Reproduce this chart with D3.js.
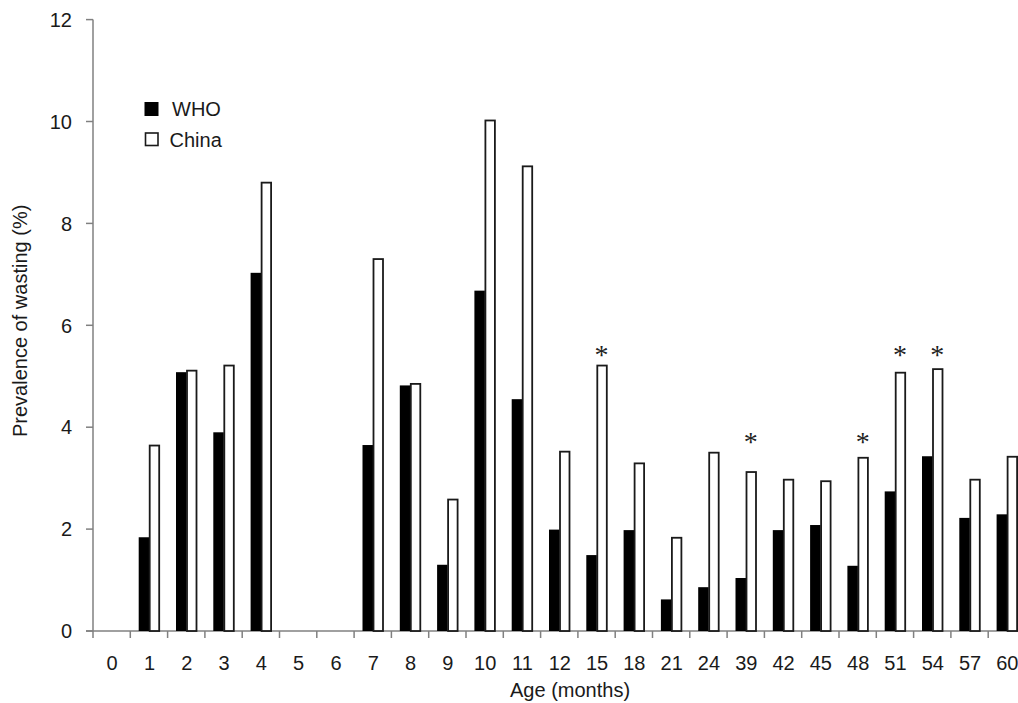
<!DOCTYPE html>
<html>
<head>
<meta charset="utf-8">
<script src="https://cdn.jsdelivr.net/npm/d3@7"></script>
<style>
  html, body { margin: 0; padding: 0; background: #fff; }
  svg { display: block; }
  text { font-family: "Liberation Sans", Arial, sans-serif; fill: #1a1a1a; }
</style>
</head>
<body>
<svg id="chart" width="1018" height="703"></svg>
<script>
const categories = ["0","1","2","3","4","5","6","7","8","9","10","11","12","15","18","21","24","39","42","45","48","51","54","57","60"];
const whoValues = [null, 1.84, 5.08, 3.90, 7.03, null, null, 3.65, 4.82, 1.30, 6.68, 4.55, 1.99, 1.49, 1.98, 0.62, 0.86, 1.04, 1.98, 2.08, 1.28, 2.74, 3.43, 2.22, 2.29];
const chinaValues = [null, 3.64, 5.11, 5.21, 8.80, null, null, 7.30, 4.85, 2.58, 10.02, 9.12, 3.52, 5.21, 3.29, 1.83, 3.50, 3.12, 2.97, 2.94, 3.40, 5.07, 5.14, 2.97, 3.42];
const yTicks = [0, 2, 4, 6, 8, 10, 12];
const sigCategories = ["15", "39", "48", "51", "54"];
const sigLevels = [5.54, 3.82, 3.82, 5.54, 5.54];
const seriesNames = ["WHO", "China"];

const svg = d3.select("#chart");
const axisColor = "#808080";

const x = d3.scaleBand().domain(categories).range([93, 93 + 37.3 * categories.length]).padding(0);
const x1 = d3.scaleBand().domain(seriesNames).range([8.4, 29.4]).padding(0);
const y = d3.scaleLinear().domain([0, 12]).range([631, 19.6]);

// Y axis
svg.append("line").attr("x1", 93).attr("x2", 93).attr("y1", y(12)).attr("y2", y(0))
  .attr("stroke", axisColor).attr("stroke-width", 1.5);
svg.selectAll(".ytick").data(yTicks).enter().append("line")
  .attr("x1", 86).attr("x2", 93).attr("y1", d => y(d)).attr("y2", d => y(d))
  .attr("stroke", axisColor).attr("stroke-width", 1.5);
svg.selectAll(".ylab").data(yTicks).enter().append("text")
  .attr("x", 72).attr("y", d => y(d)).attr("dy", "0.36em")
  .attr("text-anchor", "end").attr("font-size", 20).text(d => d);

// X axis
svg.append("line").attr("x1", 86).attr("x2", 1018).attr("y1", y(0)).attr("y2", y(0))
  .attr("stroke", axisColor).attr("stroke-width", 1.5);
svg.selectAll(".xtick").data(categories).enter().append("line")
  .attr("x1", d => x(d)).attr("x2", d => x(d)).attr("y1", y(0)).attr("y2", y(0) + 7)
  .attr("stroke", axisColor).attr("stroke-width", 1.5);
svg.selectAll(".xlab").data(categories).enter().append("text")
  .attr("x", d => x(d) + x.bandwidth() / 2 + 0.5).attr("y", 670)
  .attr("text-anchor", "middle").attr("font-size", 20).text(d => d);

// Bars
const whoData = categories.map((c, i) => ({c, v: whoValues[i]})).filter(d => d.v != null);
const chinaData = categories.map((c, i) => ({c, v: chinaValues[i]})).filter(d => d.v != null);

svg.selectAll(".who").data(whoData).enter().append("rect")
  .attr("x", d => x(d.c) + x1("WHO")).attr("width", x1.bandwidth())
  .attr("y", d => y(d.v)).attr("height", d => y(0) - y(d.v))
  .attr("fill", "#000");

svg.selectAll(".china").data(chinaData).enter().append("rect")
  .attr("x", d => x(d.c) + x1("China") + 0.5).attr("width", x1.bandwidth() - 1)
  .attr("y", d => y(d.v)).attr("height", d => y(0) - y(d.v))
  .attr("fill", "#fff").attr("stroke", "#1a1a1a").attr("stroke-width", 1.8);

// Significance asterisks
svg.selectAll(".sig").data(sigCategories).enter().append("text")
  .attr("x", (d) => x(d) + x.bandwidth() / 2 + 5)
  .attr("y", (d, i) => y(sigLevels[i]) + 15)
  .attr("text-anchor", "middle").attr("font-size", 28)
  .style("font-family", "'Liberation Serif', serif")
  .style("fill", "#222")
  .text("*");

// Legend
svg.append("rect").attr("x", 144.5).attr("y", 102).attr("width", 14).attr("height", 14).attr("fill", "#000");
svg.append("text").attr("x", 172).attr("y", 116).attr("font-size", 20).text("WHO");
svg.append("rect").attr("x", 145.5).attr("y", 133).attr("width", 12.5).attr("height", 12.5)
  .attr("fill", "#fff").attr("stroke", "#1a1a1a").attr("stroke-width", 1.6);
svg.append("text").attr("x", 169.5).attr("y", 146.5).attr("font-size", 20).text("China");

// Axis titles
svg.append("text").attr("transform", "translate(27,437) rotate(-90)")
  .attr("text-anchor", "start").attr("font-size", 20).text("Prevalence of wasting (%)");
svg.append("text").attr("x", 510).attr("y", 697)
  .attr("text-anchor", "start").attr("font-size", 20).text("Age (months)");
</script>
</body>
</html>
